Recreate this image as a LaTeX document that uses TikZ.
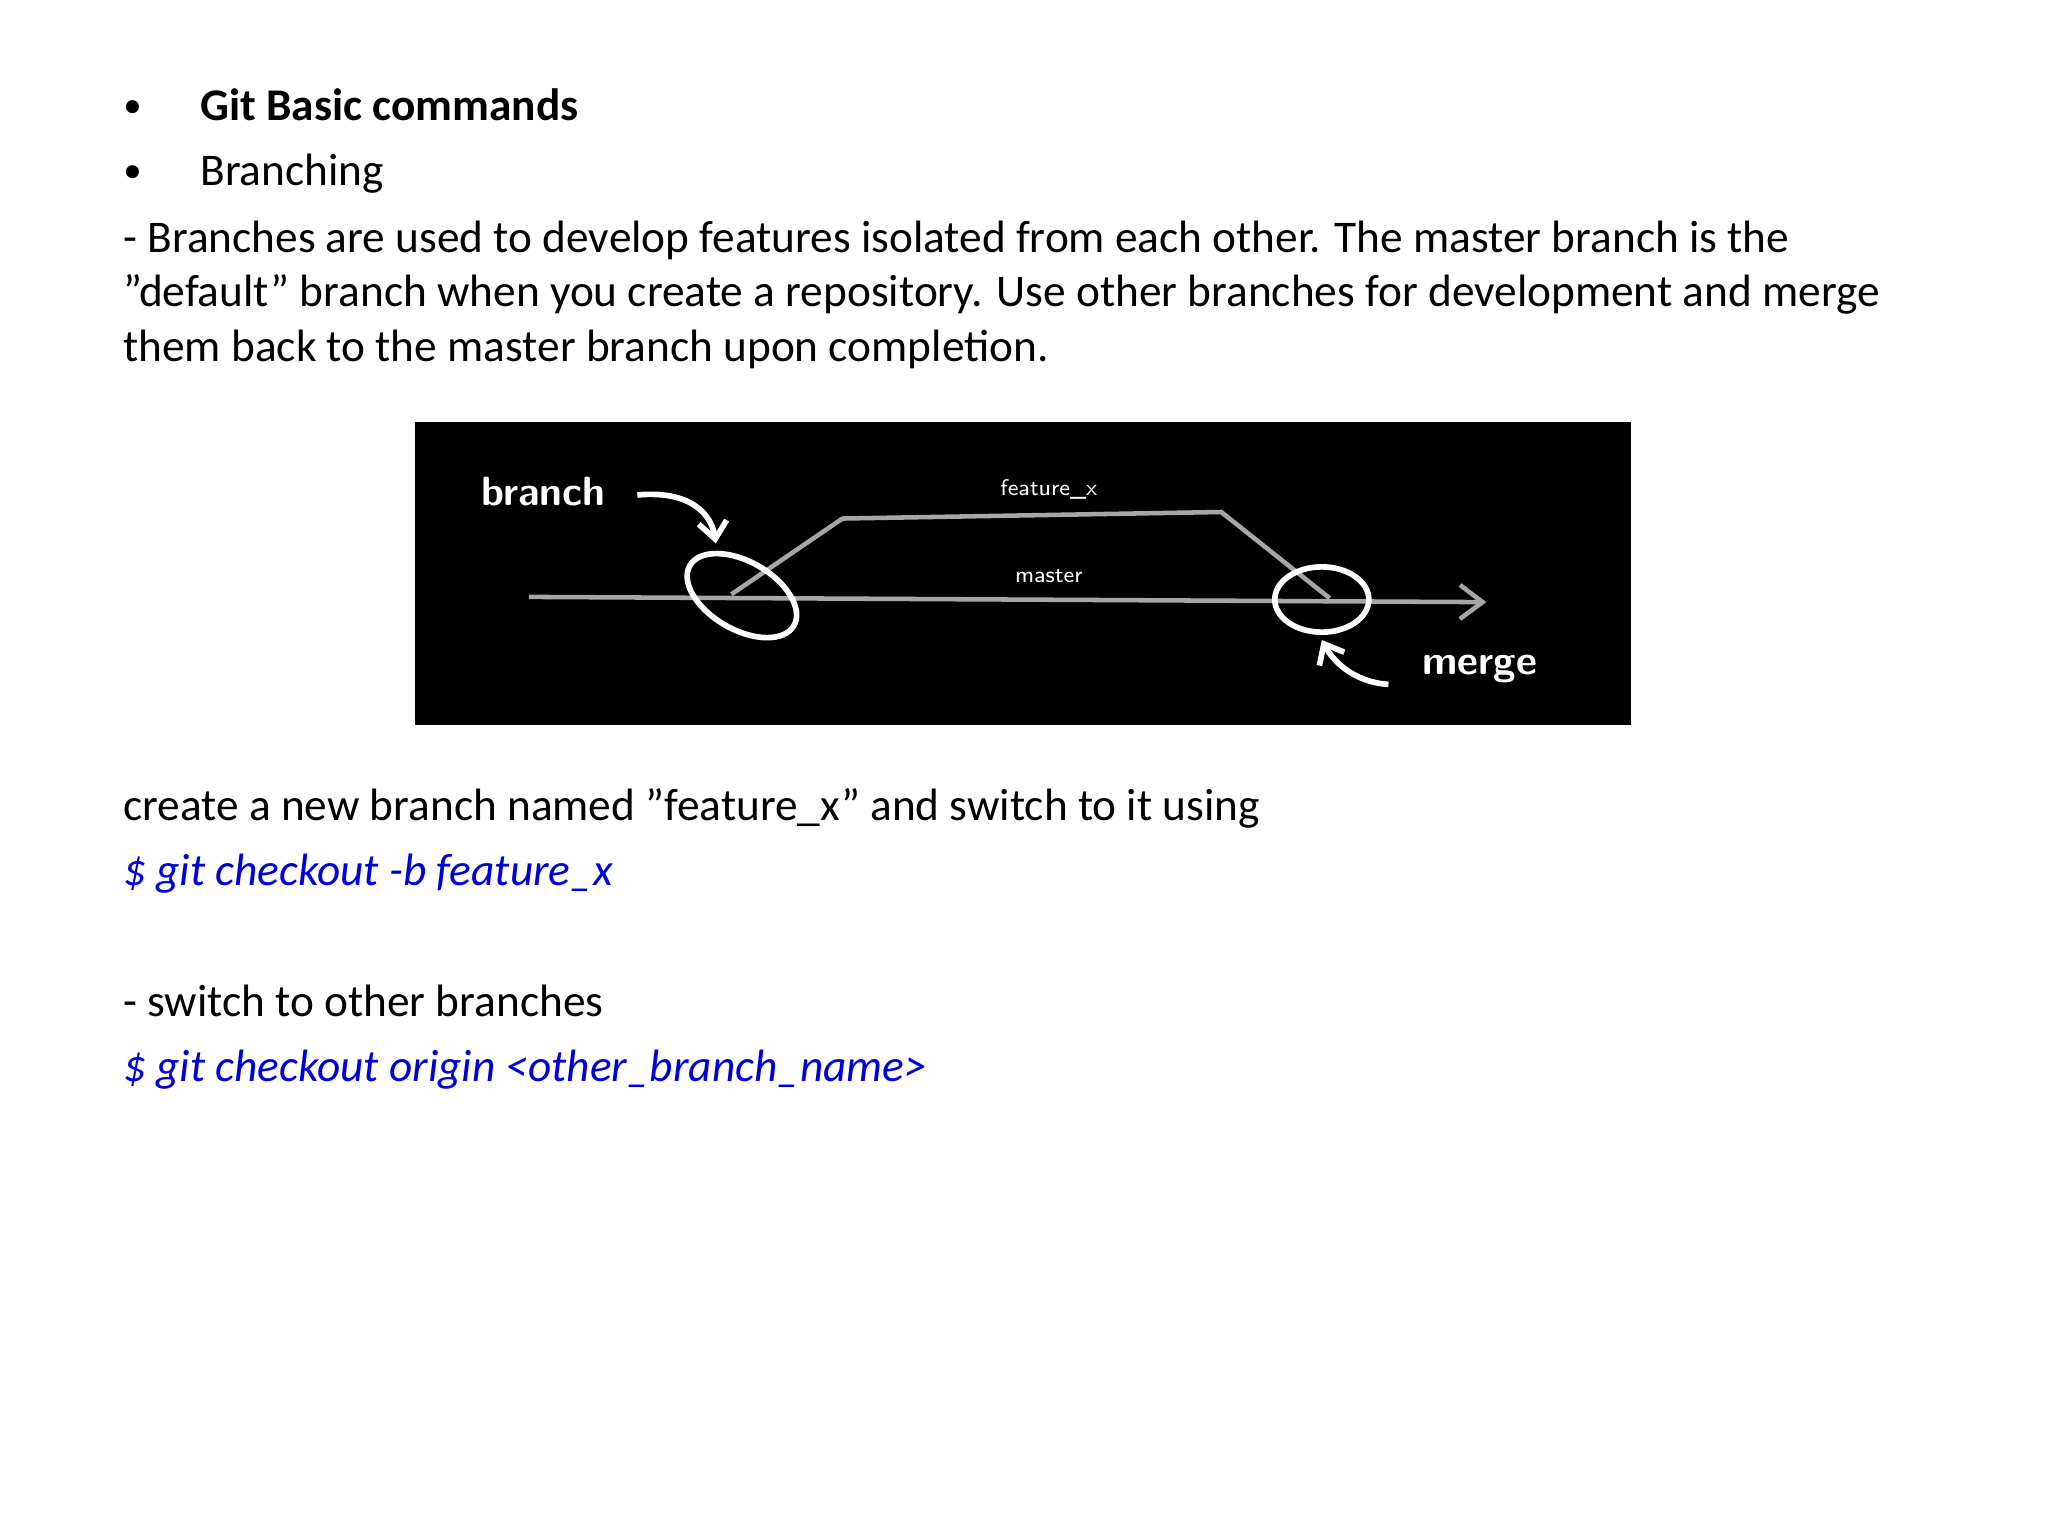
\documentclass[tikz,border=0pt]{standalone}
\usepackage{fontspec}
\setmainfont{Carlito}
\usetikzlibrary{arrows.meta}
\newcommand{\dq}{\symbol{34}}
\begin{document}
\begin{tikzpicture}[x=0.0162cm,y=-0.0162cm,
  txt/.style={anchor=base west,inner sep=0,font=\fontsize{16pt}{19pt}\selectfont},
  cmd/.style={txt,text=blue!85!black,font=\fontsize{16pt}{19pt}\selectfont\itshape},
  hand/.style={text=white,font=\sffamily\bfseries,inner sep=0},
  gline/.style={draw=gray!70,line width=1.6pt},
  wline/.style={draw=white,line width=2pt}]
\useasboundingbox (0,0) rectangle (1568,1176);
\node[txt,font=\fontsize{13pt}{16pt}\selectfont] (b1) at (94,90) {•};
\node[txt] (t1) at (153,92) {\bfseries Git Basic commands};
\node[txt,font=\fontsize{13pt}{16pt}\selectfont] (b2) at (94,140) {•};
\node[txt] (t2) at (153,142) {Branching};
\node[txt] (p1) at (94,193) {- Branches are used to develop features isolated from each other. The master branch is the};
\node[txt] (p2) at (94,235) {\dq default\dq{} branch when you create a repository. Use other branches for development and merge};
\node[txt] (p3) at (94,277) {them back to the master branch upon completion.};
% diagram
\fill[black] (318,323) rectangle (1249,555);
\coordinate (m0) at (405,457); \coordinate (m1) at (1138,461);
\draw[gline,-{Straight Barb[length=8pt,width=12pt]}] (m0) -- (m1);
\coordinate (f0) at (560,455); \coordinate (f1) at (645,397);
\coordinate (f2) at (935,392); \coordinate (f3) at (1018,458);
\draw[gline] (f0) -- (f1) -- (f2) -- (f3);
\draw[wline,rotate around={-30:(568,456)}] (568,456) ellipse (46 and 26);
\draw[wline] (1012,459) ellipse (36 and 25);
\node[hand,font=\sffamily\bfseries\Large] (br) at (416,376) {branch};
\node[hand,font=\sffamily\footnotesize] (fx) at (803,375) {feature\_x};
\node[hand,font=\sffamily\footnotesize] (ms) at (803,441) {master};
\node[hand,font=\sffamily\bfseries\Large] (mg) at (1133,512) {merge};
\draw[wline,-{Straight Barb[length=6pt,width=10pt]}] (488,379) .. controls (530,375) and (545,395) .. (548,416);
\draw[wline,-{Straight Barb[length=6pt,width=10pt]}] (1063,524) .. controls (1035,522) and (1020,505) .. (1012,490);
% commands
\node[txt] (c1) at (94,628) {create a new branch named \dq feature\_x\dq{} and switch to it using};
\node[cmd] (c2) at (94,678) {\$ git checkout -b feature\_x};
\node[txt] (c3) at (94,778) {- switch to other branches};
\node[cmd] (c4) at (94,828) {\$ git checkout origin <other\_branch\_name>};
\end{tikzpicture}
\end{document}
